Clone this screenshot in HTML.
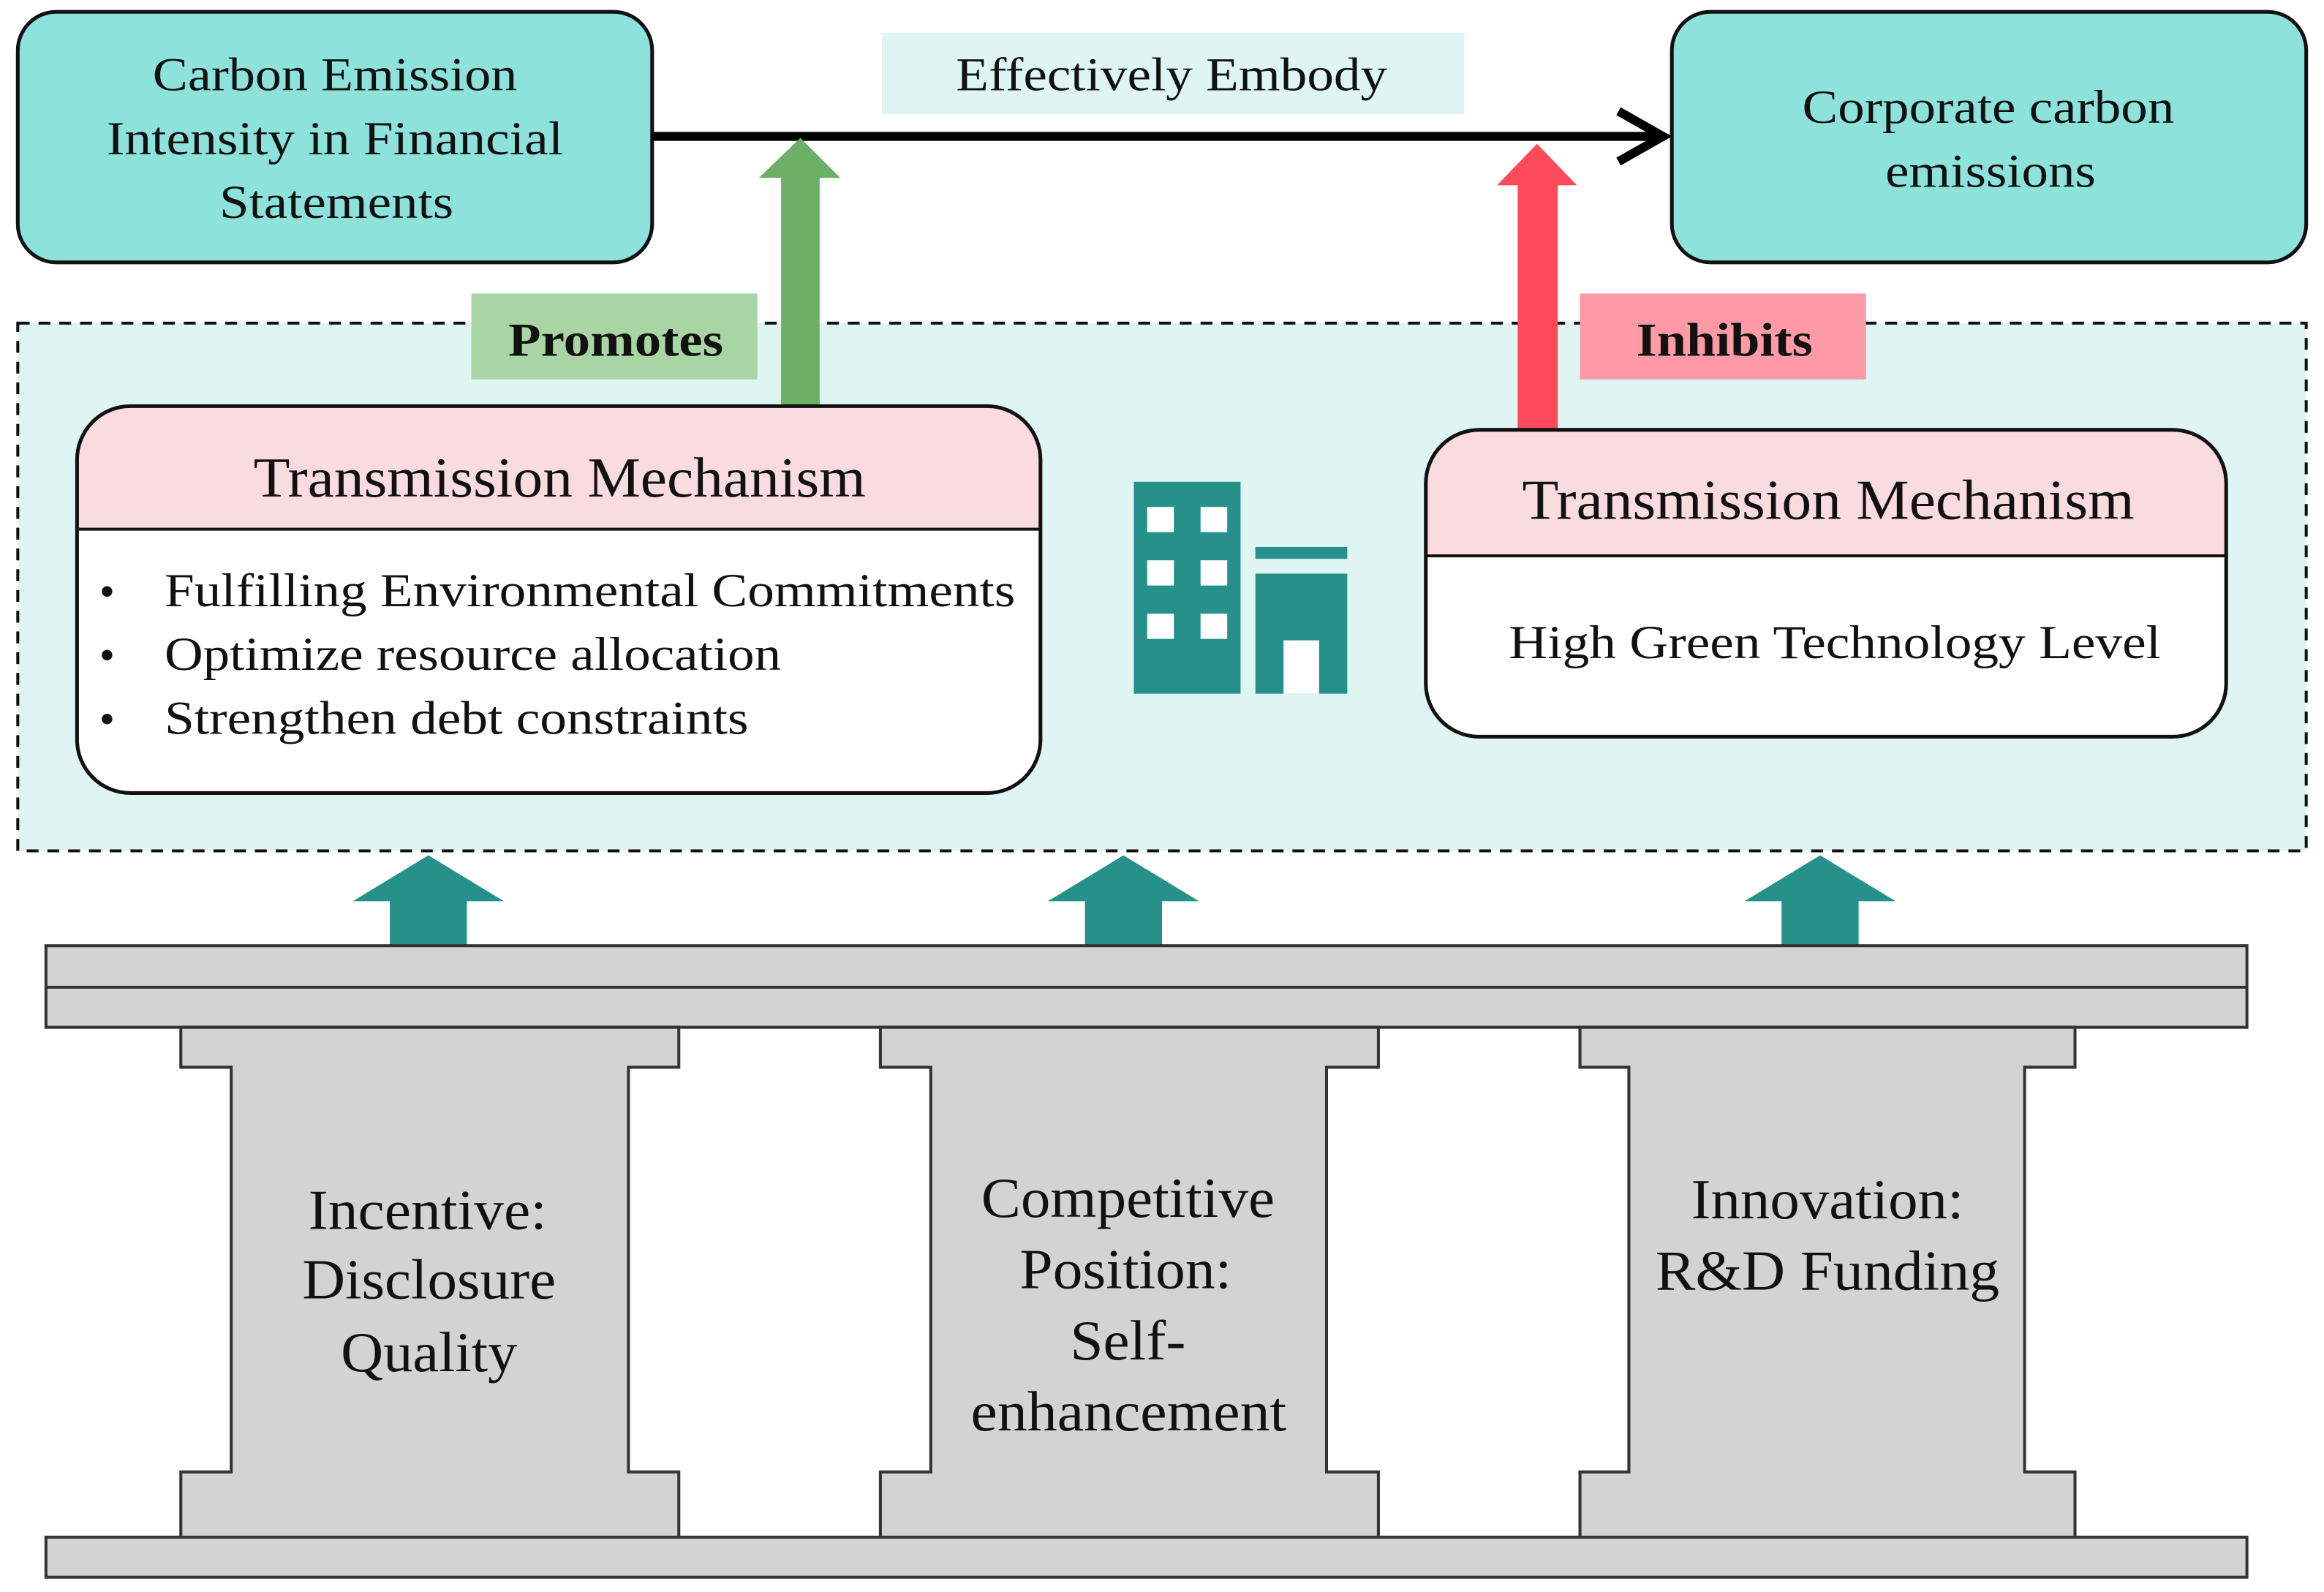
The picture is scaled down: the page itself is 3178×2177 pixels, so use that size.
<!DOCTYPE html>
<html><head><meta charset="utf-8">
<style>
html,body{margin:0;padding:0;background:#fff;}
svg{display:block;}
</style></head>
<body>
<svg width="3178" height="2177" viewBox="0 0 1568 1074" xmlns="http://www.w3.org/2000/svg" preserveAspectRatio="none" font-family="'Liberation Serif','Times New Roman','DejaVu Serif',serif">
<rect width="1568" height="1074" fill="#fff"/>
<rect x="12" y="218" width="1544" height="356" fill="#dff5f3" stroke="#111" stroke-width="2" stroke-dasharray="8,6"/>
<rect x="12" y="8" width="428" height="169" rx="26" fill="#8de3dc" stroke="#111" stroke-width="2.5"/>
<g fill="#111" font-size="32" lengthAdjust="spacingAndGlyphs">
<text x="103" y="61" textLength="246" lengthAdjust="spacingAndGlyphs">Carbon Emission</text>
<text x="72" y="104" textLength="308" lengthAdjust="spacingAndGlyphs">Intensity in Financial</text>
<text x="148" y="147" textLength="158" lengthAdjust="spacingAndGlyphs">Statements</text>
</g>
<rect x="1128" y="8" width="428" height="169" rx="26" fill="#8de3dc" stroke="#111" stroke-width="2.5"/>
<g fill="#111" font-size="32">
<text x="1216" y="83" textLength="251" lengthAdjust="spacingAndGlyphs">Corporate carbon</text>
<text x="1272" y="126" textLength="142" lengthAdjust="spacingAndGlyphs">emissions</text>
</g>
<rect x="595" y="22" width="393" height="55" fill="#dff5f3"/>
<text x="645" y="61" font-size="32" fill="#111" textLength="291" lengthAdjust="spacingAndGlyphs">Effectively Embody</text>
<line x1="440" y1="92" x2="1122" y2="92" stroke="#000" stroke-width="6"/>
<polyline points="1092,75 1122,92 1092,109" fill="none" stroke="#000" stroke-width="6"/>
<rect x="527" y="118" width="26" height="155" fill="#6daf67"/>
<polygon points="512,120 540,93 567,120" fill="#6daf67"/>
<rect x="318" y="198" width="193" height="58" fill="#a9d5a4"/>
<text x="343" y="240" font-size="32" font-weight="bold" fill="#111" textLength="145" lengthAdjust="spacingAndGlyphs">Promotes</text>
<rect x="1024" y="123" width="27" height="166" fill="#ff4a5a"/>
<polygon points="1010,125 1037,97 1064,125" fill="#ff4a5a"/>
<rect x="1066" y="198" width="193" height="58" fill="#fd9aa5"/>
<text x="1104" y="240" font-size="32" font-weight="bold" fill="#111" textLength="119" lengthAdjust="spacingAndGlyphs">Inhibits</text>
<defs>
<clipPath id="cl"><rect x="52" y="274" width="650" height="261" rx="36"/></clipPath>
<clipPath id="cr"><rect x="962" y="290" width="540" height="207" rx="36"/></clipPath>
</defs>
<g clip-path="url(#cl)">
<rect x="52" y="274" width="650" height="261" fill="#fff"/>
<rect x="52" y="274" width="650" height="83" fill="#f9dbe0"/>
</g>
<line x1="52" y1="357" x2="702" y2="357" stroke="#111" stroke-width="2"/>
<rect x="52" y="274" width="650" height="261" rx="36" fill="none" stroke="#111" stroke-width="2.5"/>
<g fill="#111">
<text x="171" y="335" font-size="38" textLength="413" lengthAdjust="spacingAndGlyphs">Transmission Mechanism</text>
<text x="67" y="409" font-size="30">•</text>
<text x="111" y="409" font-size="32" textLength="574" lengthAdjust="spacingAndGlyphs">Fulfilling Environmental Commitments</text>
<text x="67" y="452" font-size="30">•</text>
<text x="111" y="452" font-size="32" textLength="416" lengthAdjust="spacingAndGlyphs">Optimize resource allocation</text>
<text x="67" y="495" font-size="30">•</text>
<text x="111" y="495" font-size="32" textLength="394" lengthAdjust="spacingAndGlyphs">Strengthen debt constraints</text>
</g>
<g clip-path="url(#cr)">
<rect x="962" y="290" width="540" height="207" fill="#fff"/>
<rect x="962" y="290" width="540" height="85" fill="#f9dbe0"/>
</g>
<line x1="962" y1="375" x2="1502" y2="375" stroke="#111" stroke-width="2"/>
<rect x="962" y="290" width="540" height="207" rx="36" fill="none" stroke="#111" stroke-width="2.5"/>
<g fill="#111">
<text x="1027" y="350" font-size="38" textLength="413" lengthAdjust="spacingAndGlyphs">Transmission Mechanism</text>
<text x="1018" y="444" font-size="32" textLength="440" lengthAdjust="spacingAndGlyphs">High Green Technology Level</text>
</g>
<rect x="765" y="325" width="72" height="143" fill="#25918a"/>
<g fill="#fff">
<rect x="774" y="342" width="18" height="17"/><rect x="810" y="342" width="18" height="17"/>
<rect x="774" y="378" width="18" height="17"/><rect x="810" y="378" width="18" height="17"/>
<rect x="774" y="414" width="18" height="17"/><rect x="810" y="414" width="18" height="17"/>
</g>
<rect x="847" y="369" width="62" height="8" fill="#25918a"/>
<rect x="847" y="387" width="62" height="81" fill="#25918a"/>
<rect x="866" y="432" width="24" height="36" fill="#fff"/>
<g fill="#25918a">
<polygon points="238,608 289,577 340,608 315,608 315,638 263,638 263,608"/>
<polygon points="707,608 758,577 809,608 784,608 784,638 732,638 732,608"/>
<polygon points="1177,608 1228,577 1279,608 1254,608 1254,638 1202,638 1202,608"/>
</g>
<g fill="#d3d3d3" stroke="#333" stroke-width="2">
<rect x="31" y="638" width="1485" height="55"/>
<line x1="31" y1="666" x2="1516" y2="666"/>
<rect x="31" y="1037" width="1485" height="27"/>
<polygon points="122,693 458,693 458,720 424,720 424,993 458,993 458,1037 122,1037 122,993 156,993 156,720 122,720"/>
<polygon points="594,693 930,693 930,720 895,720 895,993 930,993 930,1037 594,1037 594,993 628,993 628,720 594,720"/>
<polygon points="1066,693 1400,693 1400,720 1366,720 1366,993 1400,993 1400,1037 1066,1037 1066,993 1099,993 1099,720 1066,720"/>
</g>
<g font-size="38" fill="#111">
<text x="208" y="829" textLength="161" lengthAdjust="spacingAndGlyphs">Incentive:</text>
<text x="204" y="876" textLength="171" lengthAdjust="spacingAndGlyphs">Disclosure</text>
<text x="230" y="925" textLength="119" lengthAdjust="spacingAndGlyphs">Quality</text>
<text x="662" y="821" textLength="198" lengthAdjust="spacingAndGlyphs">Competitive</text>
<text x="688" y="869" textLength="143" lengthAdjust="spacingAndGlyphs">Position:</text>
<text x="722" y="917" textLength="78" lengthAdjust="spacingAndGlyphs">Self-</text>
<text x="655" y="965" textLength="213" lengthAdjust="spacingAndGlyphs">enhancement</text>
<text x="1141" y="822" textLength="184" lengthAdjust="spacingAndGlyphs">Innovation:</text>
<text x="1117" y="870" textLength="232" lengthAdjust="spacingAndGlyphs">R&amp;D Funding</text>
</g>
</svg>
</body></html>
